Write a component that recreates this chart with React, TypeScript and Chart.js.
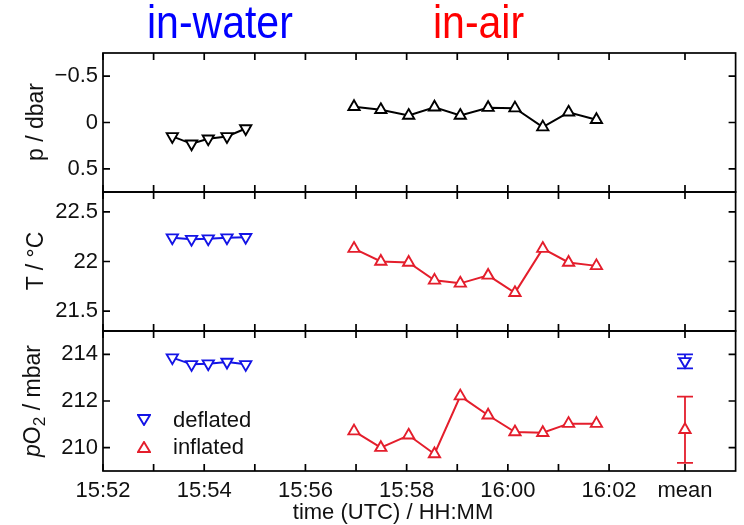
import React, { useEffect, useRef } from "react";
import { Chart, registerables } from "chart.js";

Chart.register(...registerables);

const FONT = '"Liberation Sans", Arial, Helvetica, sans-serif';

// time axis: minutes after 15:52 UTC
const deflatedTime = [1.37, 1.75, 2.08, 2.45, 2.82];
const inflatedTime = [4.96, 5.49, 6.04, 6.55, 7.06, 7.61, 8.14, 8.69, 9.2, 9.75];
const meanTime = 11.5;
const xTickValues = [0, 1, 2, 3, 4, 5, 6, 7, 8, 9, 10, 11.5];
const xTickLabels = ["15:52", "", "15:54", "", "15:56", "", "15:58", "", "16:00", "", "16:02", "mean"];

// p / dbar
const pDeflated = [0.15, 0.23, 0.175, 0.15, 0.065];
const pInflated = [-0.17, -0.137, -0.075, -0.165, -0.075, -0.16, -0.155, 0.05, -0.11, -0.03];
const pTicks = [-0.5, 0, 0.5];
const pTickLabels = ["\u22120.5", "0", "0.5"];

// T / °C
const tDeflated = [22.24, 22.225, 22.23, 22.24, 22.245];
const tInflated = [22.13, 22.0, 21.99, 21.81, 21.78, 21.86, 21.685, 22.13, 21.99, 21.956];
const tTicks = [21.5, 22, 22.5];
const tTickLabels = ["21.5", "22", "22.5"];

// pO2 / mbar
const oDeflated = [213.86, 213.57, 213.6, 213.67, 213.57];
const oInflated = [210.71, 210.0, 210.53, 209.73, 212.21, 211.39, 210.67, 210.64, 211.03, 211.03];
const oTicks = [210, 212, 214];
const oTickLabels = ["210", "212", "214"];
const oMeanDeflated = 213.7;
const oErrDeflated = 0.3;
const oMeanInflated = 210.77;
const oErrInflated = 1.42;

const BLUE = "#1414e6";
const RED = "#e41e2c";

type ErrBar = { x: number; y: number; err: number; color: string };

function series(times: number[], vals: number[], color: string, down: boolean, line = true) {
  return {
    data: times.map((t, i) => ({ x: t, y: vals[i] })),
    borderColor: color,
    backgroundColor: "white",
    borderWidth: 2,
    showLine: line,
    pointStyle: "triangle",
    rotation: down ? 180 : 0,
    pointRadius: 6.5,
    pointBorderWidth: 1.9,
    pointBackgroundColor: "white",
    pointBorderColor: color,
    tension: 0,
  };
}

function makePanel(
  canvas: HTMLCanvasElement,
  cfg: {
    min: number;
    max: number;
    reverse: boolean;
    ticks: number[];
    labels: string[];
    datasets: any[];
    showX: boolean;
    padTop: number;
    padBottom: number;
    errs: ErrBar[];
  }
) {
  const frame = {
    id: "frame",
    beforeDatasetsDraw(chart: any) {
      const { ctx, scales } = chart;
      ctx.save();
      ctx.lineWidth = 1.8;
      for (const e of cfg.errs) {
        const px = scales.x.getPixelForValue(e.x);
        const y1 = scales.y.getPixelForValue(e.y - e.err);
        const y2 = scales.y.getPixelForValue(e.y + e.err);
        ctx.strokeStyle = e.color;
        ctx.beginPath();
        ctx.moveTo(px, y1);
        ctx.lineTo(px, y2);
        ctx.moveTo(px - 8, y1);
        ctx.lineTo(px + 8, y1);
        ctx.moveTo(px - 8, y2);
        ctx.lineTo(px + 8, y2);
        ctx.stroke();
      }
      ctx.restore();
    },
    afterDraw(chart: any) {
      const { ctx, chartArea: a, scales } = chart;
      ctx.save();
      ctx.strokeStyle = "#000";
      ctx.lineWidth = 1.7;
      ctx.strokeRect(a.left, a.top, a.right - a.left, a.bottom - a.top);
      const tl = 7;
      ctx.beginPath();
      for (const v of xTickValues) {
        const px = scales.x.getPixelForValue(v);
        ctx.moveTo(px, a.top);
        ctx.lineTo(px, a.top + tl);
        ctx.moveTo(px, a.bottom);
        ctx.lineTo(px, a.bottom - tl);
      }
      for (const v of cfg.ticks) {
        const py = scales.y.getPixelForValue(v);
        ctx.moveTo(a.left, py);
        ctx.lineTo(a.left + tl, py);
        ctx.moveTo(a.right, py);
        ctx.lineTo(a.right - tl, py);
      }
      ctx.stroke();
      ctx.restore();
    },
  };

  return new Chart(canvas, {
    type: "line",
    data: { datasets: cfg.datasets },
    options: {
      animation: false,
      responsive: true,
      maintainAspectRatio: false,
      layout: { padding: { left: 0, right: 3, top: cfg.padTop, bottom: cfg.padBottom } },
      plugins: { legend: { display: false }, tooltip: { enabled: false } },
      scales: {
        x: {
          type: "linear",
          min: 0,
          max: 12.5,
          display: cfg.showX,
          afterBuildTicks: (s: any) => {
            s.ticks = xTickValues.map((v) => ({ value: v }));
          },
          afterFit: (s: any) => {
            if (cfg.showX) s.height = 54;
          },
          grid: { display: false, drawTicks: false },
          border: { display: false },
          ticks: {
            autoSkip: false,
            maxRotation: 0,
            padding: 7,
            color: "#111",
            font: { family: FONT, size: 22 },
            callback: (_v: any, i: number) => xTickLabels[i],
          },
        },
        y: {
          type: "linear",
          min: cfg.min,
          max: cfg.max,
          reverse: cfg.reverse,
          afterBuildTicks: (s: any) => {
            s.ticks = cfg.ticks.map((v) => ({ value: v }));
          },
          afterFit: (s: any) => {
            s.width = 103;
          },
          grid: { display: false, drawTicks: false },
          border: { display: false },
          ticks: {
            padding: 5,
            color: "#111",
            font: { family: FONT, size: 22 },
            callback: (_v: any, i: number) => cfg.labels[i],
          },
        },
      },
    },
    plugins: [frame],
  } as any);
}

const full: React.CSSProperties = { position: "absolute", left: 0, top: 0, width: 744, height: 525 };

function Tri({ x, y, color, down }: { x: number; y: number; color: string; down: boolean }) {
  const pts = down ? "1,1 13,1 7,11" : "1,11 13,11 7,1";
  return (
    <svg width={14} height={12} style={{ position: "absolute", left: x - 7, top: y - 6 }}>
      <polygon points={pts} fill="white" stroke={color} strokeWidth={1.9} />
    </svg>
  );
}

export default function App() {
  const r1 = useRef<HTMLCanvasElement>(null);
  const r2 = useRef<HTMLCanvasElement>(null);
  const r3 = useRef<HTMLCanvasElement>(null);

  useEffect(() => {
    const c1 = makePanel(r1.current!, {
      min: -0.75,
      max: 0.75,
      reverse: true,
      ticks: pTicks,
      labels: pTickLabels,
      datasets: [series(deflatedTime, pDeflated, "#000", true), series(inflatedTime, pInflated, "#000", false)],
      showX: false,
      padTop: 53,
      padBottom: 333,
      errs: [],
    });
    const c2 = makePanel(r2.current!, {
      min: 21.3,
      max: 22.7,
      reverse: false,
      ticks: tTicks,
      labels: tTickLabels,
      datasets: [series(deflatedTime, tDeflated, BLUE, true), series(inflatedTime, tInflated, RED, false)],
      showX: false,
      padTop: 192,
      padBottom: 194,
      errs: [],
    });
    const c3 = makePanel(r3.current!, {
      min: 209,
      max: 215,
      reverse: false,
      ticks: oTicks,
      labels: oTickLabels,
      datasets: [
        series(deflatedTime, oDeflated, BLUE, true),
        series(inflatedTime, oInflated, RED, false),
        series([meanTime], [oMeanDeflated], BLUE, true, false),
        series([meanTime], [oMeanInflated], RED, false, false),
      ],
      showX: true,
      padTop: 331,
      padBottom: 0,
      errs: [
        { x: meanTime, y: oMeanDeflated, err: oErrDeflated, color: BLUE },
        { x: meanTime, y: oMeanInflated, err: oErrInflated, color: RED },
      ],
    });
    return () => {
      c1.destroy();
      c2.destroy();
      c3.destroy();
    };
  }, []);

  const yTitle = (top: number): React.CSSProperties => ({
    position: "absolute",
    left: 35,
    top,
    transform: "translate(-50%, -50%) rotate(-90deg)",
    whiteSpace: "nowrap",
    fontSize: 23,
    lineHeight: "1",
    color: "#111",
  });

  return (
    <div style={{ position: "fixed", left: 0, top: 0, width: 744, height: 525, background: "#fff", fontFamily: FONT }}>
      <div style={full}>
        <canvas ref={r1} />
      </div>
      <div style={full}>
        <canvas ref={r2} />
      </div>
      <div style={full}>
        <canvas ref={r3} />
      </div>
      <div
        style={{ position: "absolute", left: 147, top: 5, fontSize: 41, lineHeight: "41px", color: "#0000ff", transform: "scaleY(1.12)", transformOrigin: "left bottom", whiteSpace: "nowrap" }}
      >
        in-water
      </div>
      <div
        style={{ position: "absolute", left: 433, top: 5, fontSize: 41, lineHeight: "41px", color: "#ff0000", transform: "scaleY(1.12)", transformOrigin: "left bottom", whiteSpace: "nowrap" }}
      >
        in-air
      </div>
      <div style={yTitle(122)}>p / dbar</div>
      <div style={yTitle(261)}>T / °C</div>
      <div style={yTitle(401)}>
        <i>p</i>O<sub style={{ fontSize: "0.75em", verticalAlign: "-0.3em" }}>2</sub> / mbar
      </div>
      <div style={{ position: "absolute", left: 393, top: 512, transform: "translate(-50%, -50%)", fontSize: 22, lineHeight: "1", whiteSpace: "nowrap", color: "#111" }}>
        time (UTC) / HH:MM
      </div>
      <Tri x={144} y={420} color={BLUE} down={true} />
      <Tri x={144} y={447} color={RED} down={false} />
      <div style={{ position: "absolute", left: 173, top: 420, transform: "translateY(-50%)", fontSize: 22, lineHeight: "1", color: "#111" }}>deflated</div>
      <div style={{ position: "absolute", left: 173, top: 447, transform: "translateY(-50%)", fontSize: 22, lineHeight: "1", color: "#111" }}>inflated</div>
    </div>
  );
}
